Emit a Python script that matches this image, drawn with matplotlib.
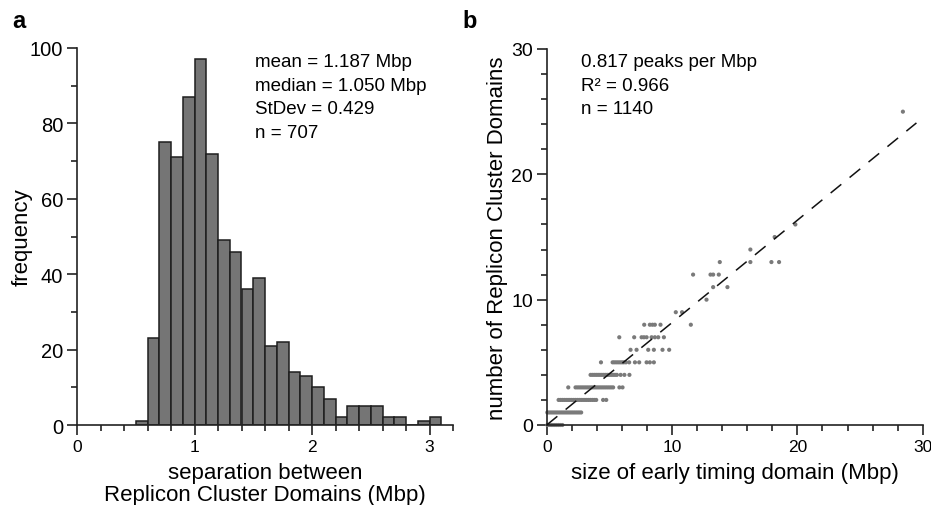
import matplotlib
matplotlib.use("Agg")
import matplotlib.pyplot as plt
from matplotlib.ticker import MultipleLocator

plt.rcParams['font.family'] = ['Liberation Sans', 'DejaVu Sans']

# ---- panel a: histogram data ----
bin_left = [0.5, 0.6, 0.7, 0.8, 0.9, 1.0, 1.1, 1.2, 1.3, 1.4, 1.5, 1.6, 1.7,
            1.8, 1.9, 2.0, 2.1, 2.2, 2.3, 2.4, 2.5, 2.6, 2.7, 2.8, 2.9, 3.0]
counts = [1, 23, 75, 71, 87, 97, 72, 49, 46, 36, 39, 21, 22,
          14, 13, 10, 7, 2, 5, 5, 5, 2, 2, 0, 1, 2]
stats_a = ["mean = 1.187 Mbp", "median = 1.050 Mbp", "StDev = 0.429", "n = 707"]

# ---- panel b: scatter data (domain size in Mbp, number of RCDs) ----
lvl0_x = [0.05, 0.2, 0.35, 0.5, 0.65, 0.8, 0.95, 1.1, 1.25]
lvl1_x = [0.05, 0.2, 0.35, 0.5, 0.65, 0.8, 0.95, 1.1, 1.25, 1.4, 1.55, 1.7,
          1.85, 2.0, 2.15, 2.3, 2.45, 2.6, 2.75]
lvl2_x = [0.95, 1.1, 1.25, 1.4, 1.55, 1.7, 1.85, 2.0, 2.15, 2.3, 2.45, 2.6,
          2.75, 2.9, 3.05, 3.2, 3.35, 3.5, 3.65, 3.8, 3.95, 4.5, 4.75]
lvl3_x = [1.72, 2.3, 2.45, 2.6, 2.75, 2.9, 3.05, 3.2, 3.35, 3.5, 3.65, 3.8,
          3.95, 4.1, 4.25, 4.4, 4.55, 4.7, 4.85, 5.0, 5.15, 5.3, 5.8, 6.05]
lvl4_x = [3.5, 3.65, 3.8, 3.95, 4.1, 4.25, 4.4, 4.55, 4.7, 4.85, 5.0, 5.15,
          5.3, 5.45, 5.6, 5.9, 6.2, 6.6]
lvl5_x = [4.33, 5.26, 5.4, 5.55, 5.7, 5.85, 6.0, 6.15, 6.32, 6.58, 7.04,
          7.38, 7.97, 8.23, 8.55]
lvl6_x = [6.69, 7.17, 8.1, 8.55, 9.24, 9.77]
lvl7_x = [5.79, 6.98, 7.57, 7.76, 7.97, 8.37, 8.63, 8.9, 9.35]
lvl8_x = [7.78, 8.23, 8.44, 8.63, 9.08, 11.5]
lvl9_x = [10.3, 10.8]
lvl10_x = [12.75]
lvl11_x = [13.28, 14.42]
lvl12_x = [11.68, 13.07, 13.28, 13.73]
lvl13_x = [13.81, 16.25, 17.93, 18.54]
lvl14_x = [16.25]
lvl15_x = [18.19]
lvl16_x = [19.84]
lvl25_x = [28.42]
levels = [0, 1, 2, 3, 4, 5, 6, 7, 8, 9, 10, 11, 12, 13, 14, 15, 16, 25]
level_xs = [lvl0_x, lvl1_x, lvl2_x, lvl3_x, lvl4_x, lvl5_x, lvl6_x, lvl7_x,
            lvl8_x, lvl9_x, lvl10_x, lvl11_x, lvl12_x, lvl13_x, lvl14_x,
            lvl15_x, lvl16_x, lvl25_x]
slope = 0.817
fit_x = [0.0, 29.5]
stats_b = ["0.817 peaks per Mbp", "R\u00b2 = 0.966", "n = 1140"]

W, H = 931, 506
fig = plt.figure(figsize=(W / 100, H / 100), dpi=100)

def box(l, t, r, b):
    return [l / W, 1 - b / H, (r - l) / W, (b - t) / H]

def style_axes(ax, ysize):
    for s in ('top', 'right'):
        ax.spines[s].set_visible(False)
    for s in ('left', 'bottom'):
        ax.spines[s].set_linewidth(1.2)
        ax.spines[s].set_color('#222222')
    ax.tick_params(which='major', direction='out', length=7, width=1.2,
                   color='#222222', pad=3)
    ax.tick_params(which='minor', direction='out', length=4.5, width=1.2,
                   color='#222222')
    ax.tick_params(axis='x', labelsize=12.5)
    ax.tick_params(axis='y', labelsize=ysize)

# ---- panel a ----
ax1 = fig.add_axes(box(77, 49, 453, 426))
ax1.bar(bin_left, counts, width=0.1, align='edge', color='#757575',
        edgecolor='#1e1e1e', linewidth=1.1, zorder=2)
ax1.set_xlim(0, 3.2)
ax1.set_ylim(0, 100)
ax1.xaxis.set_major_locator(MultipleLocator(1))
ax1.xaxis.set_minor_locator(MultipleLocator(0.2))
ax1.yaxis.set_major_locator(MultipleLocator(20))
ax1.yaxis.set_minor_locator(MultipleLocator(10))
style_axes(ax1, 14.5)
ax1.set_xlabel("separation between\nReplicon Cluster Domains (Mbp)",
               fontsize=16, labelpad=6, linespacing=1.05)
ax1.set_ylabel("frequency", fontsize=16, va='center')
ax1.yaxis.set_label_coords((22 - 77) / 376, 0.5)
for i, s in enumerate(stats_a):
    fig.text(255 / W, 1 - (63 + 23.5 * i) / H, s, fontsize=13.5,
             va='center', ha='left')
fig.text(12 / W, 1 - 21 / H, "a", fontsize=17, fontweight='bold',
         va='center', ha='left')

# ---- panel b ----
ax2 = fig.add_axes(box(546.7, 50, 922.7, 426))
xs, ys = [], []
for lv, xl in zip(levels, level_xs):
    xs.extend(xl)
    ys.extend([lv] * len(xl))
ax2.scatter(xs, ys, s=9, color='#7a7a7a', edgecolors='none', zorder=2,
            clip_on=False)
ax2.plot(fit_x, [slope * v for v in fit_x], color='#111111', lw=1.1,
         dashes=(9, 7), zorder=3)
ax2.set_xlim(0, 30)
ax2.set_ylim(0, 30)
ax2.xaxis.set_major_locator(MultipleLocator(10))
ax2.xaxis.set_minor_locator(MultipleLocator(2))
ax2.yaxis.set_major_locator(MultipleLocator(10))
ax2.yaxis.set_minor_locator(MultipleLocator(2))
style_axes(ax2, 14)
ax2.set_xlabel("size of early timing domain (Mbp)", fontsize=16, labelpad=6)
ax2.set_ylabel("number of Replicon Cluster Domains", fontsize=16, va='center')
ax2.yaxis.set_label_coords((498 - 546.7) / 376, 0.5)
for i, s in enumerate(stats_b):
    fig.text(581 / W, 1 - (63 + 23.5 * i) / H, s, fontsize=13.5,
             va='center', ha='left')
fig.text(462 / W, 1 - 21 / H, "b", fontsize=17, fontweight='bold',
         va='center', ha='left')

fig.savefig("out.png", dpi=100)
